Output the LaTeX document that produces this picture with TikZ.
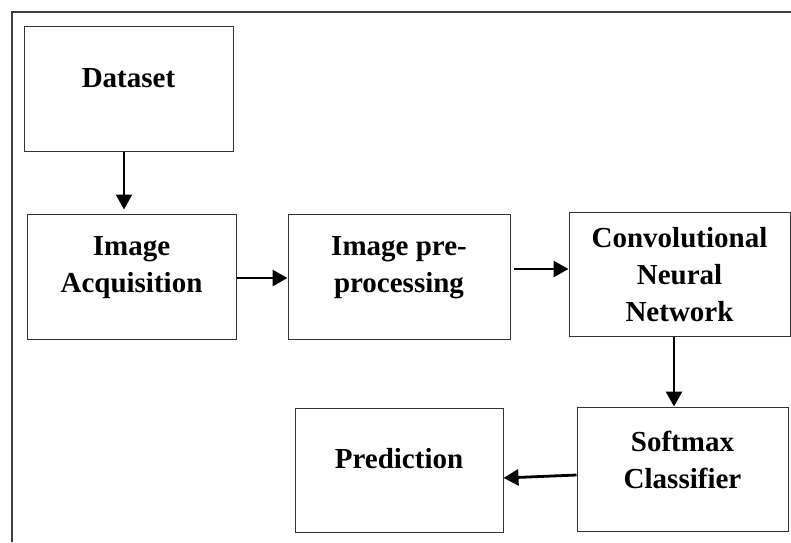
\documentclass[tikz,border=0pt]{standalone}
\usepackage{fontspec}
\setmainfont{Liberation Serif}
\usepackage{tikz}
\usetikzlibrary{positioning,arrows.meta}

\tikzset{
  stagebox/.style={draw=black!80, line width=1pt, rectangle, inner sep=0pt},
  stagetxt/.style={align=center, font=\fontsize{29}{37}\selectfont\bfseries, inner sep=0pt},
  flow/.style={line width=2.8pt, -{Triangle[length=15pt,width=16pt]}},
}

\begin{document}
\begin{tikzpicture}[x=1pt,y=-1pt]
    \useasboundingbox (0,0) rectangle (791,542);
    % frame
    \draw[black!75, line width=2pt] (11.5,542) -- (11.5,12) -- (791,12);

    % stages
    \node[stagebox, minimum width=209pt, minimum height=125pt] (dataset) at (128.5,88.5) {};
    \node[stagebox, minimum width=209pt, minimum height=125pt] (acq) at (131.5,276.5) {};
    \node[stagebox, minimum width=222pt, minimum height=125pt] (prep) at (399,276.5) {};
    \node[stagebox, minimum width=221pt, minimum height=124pt] (cnn) at (679.5,274) {};
    \node[stagebox, minimum width=211pt, minimum height=124pt] (softmax) at (682.5,469) {};
    \node[stagebox, minimum width=208pt, minimum height=124pt] (pred) at (399,470) {};

    \node[stagetxt] (datasettxt) at ([yshift=10pt]dataset.center) {Dataset};
    \node[stagetxt] (acqtxt) at ([yshift=9pt]acq.center) {Image\\Acquisition};
    \node[stagetxt] (preptxt) at ([yshift=9pt]prep.center) {Image pre-\\processing};
    \node[stagetxt] (cnntxt) at ([yshift=-1pt]cnn.center) {Convolutional\\Neural\\Network};
    \node[stagetxt] (softmaxtxt) at ([yshift=9pt]softmax.center) {Softmax\\Classifier};
    \node[stagetxt] (predtxt) at ([yshift=11pt]pred.center) {Prediction};

    % arrows between stages
    \draw[flow, shorten >=4pt] ([xshift=-4.5pt]dataset.south) -- ([xshift=-4.5pt]dataset.south |- acq.north);
    \draw[flow] ([yshift=-1.5pt]acq.east) -- ([yshift=-1.5pt]acq.east -| prep.west);
    \draw[flow, shorten <=3pt] ([yshift=7.5pt]prep.east) -- ([yshift=7.5pt]prep.east -| cnn.west);
    \draw[flow] ([xshift=-5.5pt]cnn.south) -- ([xshift=-5.5pt]cnn.south |- softmax.north);
    \draw[flow] ([yshift=-6pt]softmax.west) -- ([yshift=-8pt]pred.east);
\end{tikzpicture}
\end{document}
